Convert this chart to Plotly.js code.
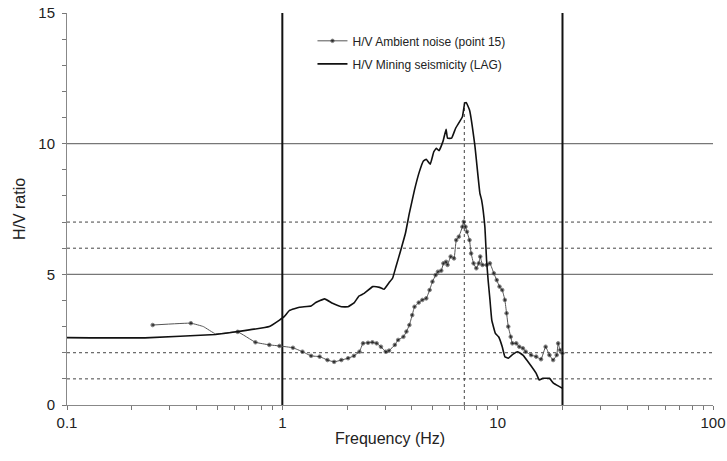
<!DOCTYPE html>
<html>
<head>
<meta charset="utf-8">
<script src="https://cdn.plot.ly/plotly-3.0.1.min.js"></script>
<style>html,body{margin:0;padding:0;background:#fff}#chart{width:727px;height:461px}</style>
</head>
<body>
<div id="chart"></div>
<script>
// Mining seismicity (LAG) H/V curve
const miningFreq = [0.1, 0.23, 0.49, 0.61, 0.87, 0.97, 1.02, 1.08, 1.20, 1.36, 1.43, 1.57, 1.71, 1.88, 2.02, 2.16, 2.27, 2.40, 2.63, 2.83, 2.97, 3.13, 3.25, 3.37, 3.55, 3.73, 3.89, 4.11, 4.33, 4.52, 4.66, 4.86, 5.05, 5.19, 5.34, 5.57, 5.76, 5.85, 6.11, 6.38, 6.86, 7.03, 7.15, 7.40, 7.83, 8.27, 8.42, 8.72, 8.88, 9.03, 9.21, 9.39, 9.76, 10.1, 10.5, 10.8, 11.2, 11.8, 12.4, 13.1, 14.0, 15.1, 15.6, 16.2, 17.4, 18.1, 19.1, 20.0];
const miningHV = [2.58, 2.57, 2.7, 2.8, 3.0, 3.25, 3.38, 3.62, 3.74, 3.79, 3.92, 4.06, 3.89, 3.76, 3.76, 3.92, 4.17, 4.27, 4.53, 4.50, 4.43, 4.68, 4.85, 5.29, 5.93, 6.57, 7.34, 8.23, 8.93, 9.34, 9.40, 9.21, 9.69, 9.82, 9.73, 10.08, 10.55, 10.21, 10.21, 10.59, 11.03, 11.55, 11.57, 11.29, 9.95, 8.10, 7.85, 6.82, 5.55, 4.78, 4.02, 3.25, 2.74, 2.61, 2.23, 1.85, 1.79, 1.95, 2.04, 1.91, 1.60, 1.21, 0.96, 1.02, 1.02, 0.85, 0.73, 0.64];

// Ambient noise (point 15) H/V curve
const noiseFreq = [0.25, 0.376, 0.43, 0.49, 0.62, 0.75, 0.87, 0.97, 1.12, 1.24, 1.36, 1.49, 1.62, 1.74, 1.88, 2.02, 2.15, 2.28, 2.37, 2.50, 2.62, 2.74, 2.87, 3.02, 3.13, 3.33, 3.45, 3.65, 3.77, 3.89, 4.01, 4.11, 4.30, 4.47, 4.66, 4.83, 4.98, 5.15, 5.28, 5.47, 5.60, 5.76, 5.85, 6.05, 6.27, 6.42, 6.60, 6.86, 6.96, 7.09, 7.20, 7.40, 7.53, 7.73, 7.96, 8.17, 8.3, 8.5, 8.9, 9.2, 9.6, 9.9, 10.2, 10.5, 10.8, 11.0, 11.2, 11.5, 11.7, 12.2, 12.6, 13.1, 13.5, 14.3, 15.1, 15.9, 16.7, 17.4, 18.1, 18.8, 19.1, 19.5, 20.0];
const noiseHV = [3.06, 3.13, 3.0, 2.72, 2.8, 2.4, 2.3, 2.26, 2.19, 2.04, 1.88, 1.85, 1.72, 1.65, 1.72, 1.79, 1.88, 2.04, 2.36, 2.38, 2.40, 2.36, 2.23, 2.04, 2.08, 2.30, 2.49, 2.61, 2.81, 3.06, 3.44, 3.76, 3.92, 4.02, 4.08, 4.40, 4.72, 4.97, 5.10, 5.14, 5.42, 5.48, 5.36, 5.68, 5.61, 6.31, 6.44, 6.82, 7.01, 6.82, 6.63, 6.31, 5.80, 5.42, 5.23, 5.42, 5.68, 5.36, 5.36, 5.42, 5.04, 4.78, 4.53, 4.40, 4.02, 3.51, 3.00, 2.61, 2.36, 2.36, 2.23, 2.17, 2.04, 1.91, 1.85, 1.75, 2.23, 1.91, 1.72, 1.91, 2.36, 2.10, 1.98];
const noiseMarkerOff = [0.43, 0.49];

// Axis ticks
const xTickVals = [0.1,0.2,0.3,0.4,0.5,0.6,0.7,0.8,0.9,1,2,3,4,5,6,7,8,9,10,20,30,40,50,60,70,80,90,100];
const xTickText = xTickVals.map(v => [0.1,1,10,100].includes(v) ? String(v) : '');
const yTickVals = [0,1,2,3,4,5,6,7,8,9,10,11,12,13,14,15];
const yTickText = yTickVals.map(v => v % 5 === 0 ? String(v) : '');

// Reference lines
const solidH = [5, 10];
const dashedH = [1, 2, 6, 7];
const solidV = [1, 20];
const peakFreq = 7, peakTop = 11.6;

const shapes = [];
solidH.forEach(v => shapes.push({type:'line', xref:'paper', x0:0, x1:1, yref:'y', y0:v, y1:v, line:{color:'#777', width:1.2}, layer:'below'}));
dashedH.forEach(v => shapes.push({type:'line', xref:'paper', x0:0, x1:1, yref:'y', y0:v, y1:v, line:{color:'#444', width:1, dash:'3px,3px'}, layer:'below'}));
solidV.forEach(v => shapes.push({type:'line', xref:'x', x0:v, x1:v, yref:'paper', y0:0, y1:1, line:{color:'#111', width:2}, layer:'below'}));
shapes.push({type:'line', xref:'x', x0:peakFreq, x1:peakFreq, yref:'y', y0:0, y1:peakTop, line:{color:'#444', width:1, dash:'3px,3px'}, layer:'below'});

const noiseSizes = noiseFreq.map(f => noiseMarkerOff.includes(f) ? 0 : 3.6);

const traces = [
  {x: noiseFreq, y: noiseHV, name: 'H/V Ambient noise (point 15)', type:'scatter', mode:'lines+markers',
   line:{color:'#555', width:1, shape:'spline', smoothing:0.3}, marker:{color:'#000', size:noiseSizes}, legendgroup:'a'},
  {x: miningFreq, y: miningHV, name: 'H/V Mining seismicity (LAG)', type:'scatter', mode:'lines',
   line:{color:'#111', width:1.6, shape:'spline', smoothing:0.3}, legendgroup:'b'}
];

const layout = {
  width: 727, height: 461,
  margin: {l:67, r:14, t:13, b:56},
  paper_bgcolor:'#fff', plot_bgcolor:'#fff',
  font: {family:'"Liberation Sans", Arial, sans-serif', color:'#222', size:12},
  showlegend: true,
  legend: {x:0.38, y:0.966, xanchor:'left', yanchor:'top', bgcolor:'rgba(0,0,0,0)', font:{size:12, color:'#222'}, tracegroupgap:4, traceorder:'grouped'},
  xaxis: {type:'log', range:[-1, 2], tickmode:'array', tickvals:xTickVals, ticktext:xTickText,
          ticks:'outside', ticklen:4, tickcolor:'#777', showline:true, linecolor:'#888', linewidth:1,
          showgrid:false, zeroline:false, tickfont:{size:15, color:'#222'},
          title:{text:'Frequency (Hz)', font:{size:16, color:'#222'}, standoff:2}},
  yaxis: {range:[0, 15], tickmode:'array', tickvals:yTickVals, ticktext:yTickText,
          ticks:'outside', ticklen:4, tickcolor:'#777', showline:true, linecolor:'#888', linewidth:1,
          showgrid:false, zeroline:false, tickfont:{size:15, color:'#222'}, ticklabelstandoff:4,
          title:{text:'H/V ratio', font:{size:16, color:'#222'}, standoff:8}},
  shapes: shapes
};

Plotly.newPlot('chart', traces, layout, {displayModeBar:false, staticPlot:true});
</script>
</body>
</html>
